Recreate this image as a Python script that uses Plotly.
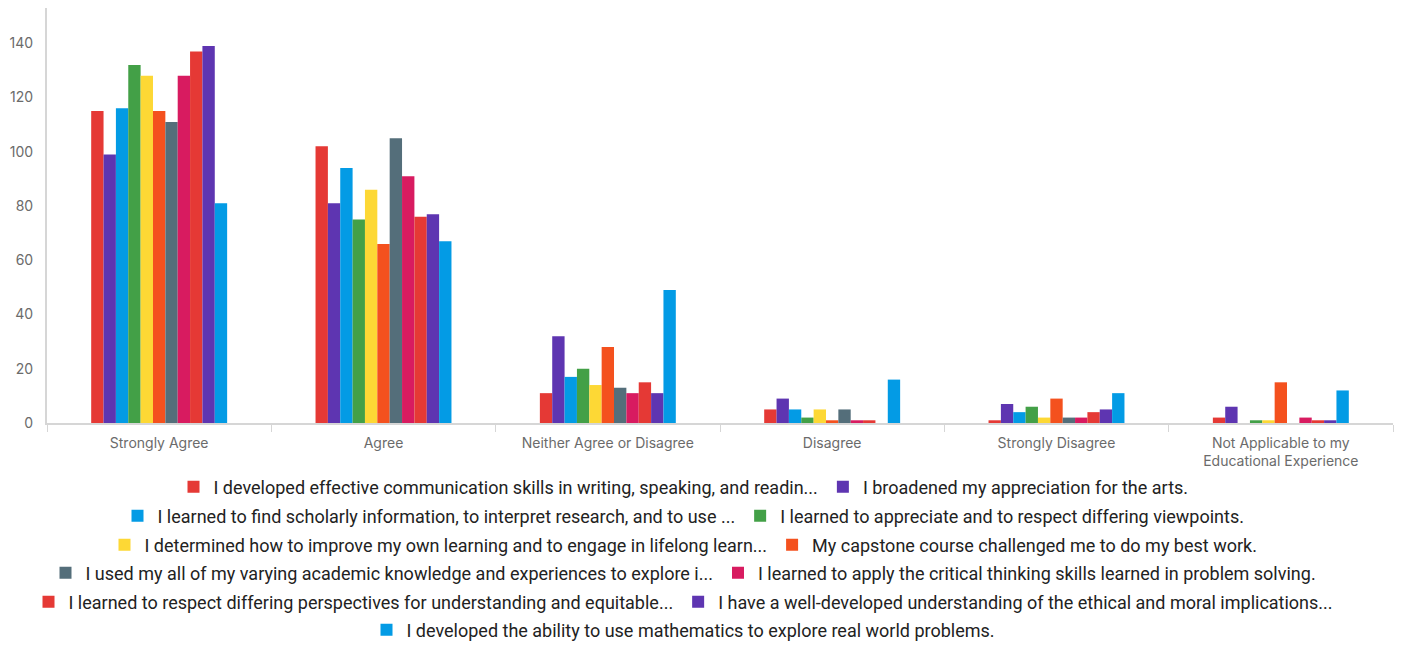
import plotly.graph_objects as go

categories = ["Strongly Agree", "Agree", "Neither Agree or Disagree", "Disagree",
              "Strongly Disagree", "Not Applicable to my<br>Educational Experience"]

series_names = [
    "I developed effective communication skills in writing, speaking, and readin...",
    "I broadened my appreciation for the arts.",
    "I learned to find scholarly information, to interpret research, and to use ...",
    "I learned to appreciate and to respect differing viewpoints.",
    "I determined how to improve my own learning and to engage in lifelong learn...",
    "My capstone course challenged me to do my best work.",
    "I used my all of my varying academic knowledge and experiences to explore i...",
    "I learned to apply the critical thinking skills learned in problem solving.",
    "I learned to respect differing perspectives for understanding and equitable...",
    "I have a well-developed understanding of the ethical and moral implications...",
    "I developed the ability to use mathematics to explore real world problems.",
]

s_communication = [115, 102, 11, 5, 1, 2]
s_arts = [99, 81, 32, 9, 7, 6]
s_scholarly = [116, 94, 17, 5, 4, 0]
s_viewpoints = [132, 75, 20, 2, 6, 1]
s_lifelong = [128, 86, 14, 5, 2, 1]
s_capstone = [115, 66, 28, 1, 9, 15]
s_knowledge = [111, 105, 13, 5, 2, 0]
s_critical = [128, 91, 11, 1, 2, 2]
s_perspectives = [137, 76, 15, 1, 4, 1]
s_ethical = [139, 77, 11, 0, 5, 1]
s_math = [81, 67, 49, 16, 11, 12]

series_values = [s_communication, s_arts, s_scholarly, s_viewpoints, s_lifelong,
                 s_capstone, s_knowledge, s_critical, s_perspectives, s_ethical, s_math]

colors = ["#E53935", "#5E35B1", "#039BE5", "#43A047", "#FDD835", "#F4511E",
          "#546E7A", "#D81B60", "#E53935", "#5E35B1", "#039BE5"]

y_ticks = [0, 20, 40, 60, 80, 100, 120, 140]

W, H = 1403, 646
OFF = 8  # default page body margin

fig = go.Figure()
legend_ids = ["legend", "legend2", "legend3", "legend4", "legend5", "legend6"]
for i, (name, vals, col) in enumerate(zip(series_names, series_values, colors)):
    fig.add_trace(go.Bar(
        x=categories, y=vals, name=name, marker_color=col,
        marker_line_width=0, legend=legend_ids[i // 2],
    ))

legend_font = dict(family="Roboto", size=18, color="#222222")
row_centers = [487, 516, 545, 573, 602, 630]
legend_layout = {}
for lid, yc in zip(legend_ids, row_centers):
    legend_layout[lid] = dict(
        orientation="h", x=0.5 - 26 / W, xanchor="center", xref="container",
        y=1 - (yc - OFF) / H, yanchor="middle", yref="container",
        font=legend_font, bgcolor="rgba(0,0,0,0)", itemclick=False,
        tracegroupgap=0, itemwidth=30,
    )

fig.update_layout(
    width=W, height=H,
    margin=dict(l=47 - OFF, r=W - 1393 + OFF, t=0, b=H - (423 - OFF), autoexpand=False),
    paper_bgcolor="white", plot_bgcolor="white",
    barmode="group", bargap=0.394, bargroupgap=0,
    showlegend=True,
    font=dict(family="Inter", color="#6b6b6b"),
    xaxis=dict(
        showline=True, linecolor="#d6d6d6", linewidth=2,
        ticks="outside", tickson="boundaries", ticklen=7, tickcolor="#d6d6d6",
        tickfont=dict(family="Inter", size=14, color="#6b6b6b"), showgrid=False,
        ticklabelstandoff=6,
    ),
    yaxis=dict(
        range=[0, 153], tickvals=y_ticks, showgrid=False, zeroline=False,
        showline=True, linecolor="#d6d6d6", linewidth=2,
        tickfont=dict(family="Inter", size=14, color="#6b6b6b"), ticks="", ticklabelstandoff=9,
    ),
    **legend_layout,
)

fig.write_html("out.html")
